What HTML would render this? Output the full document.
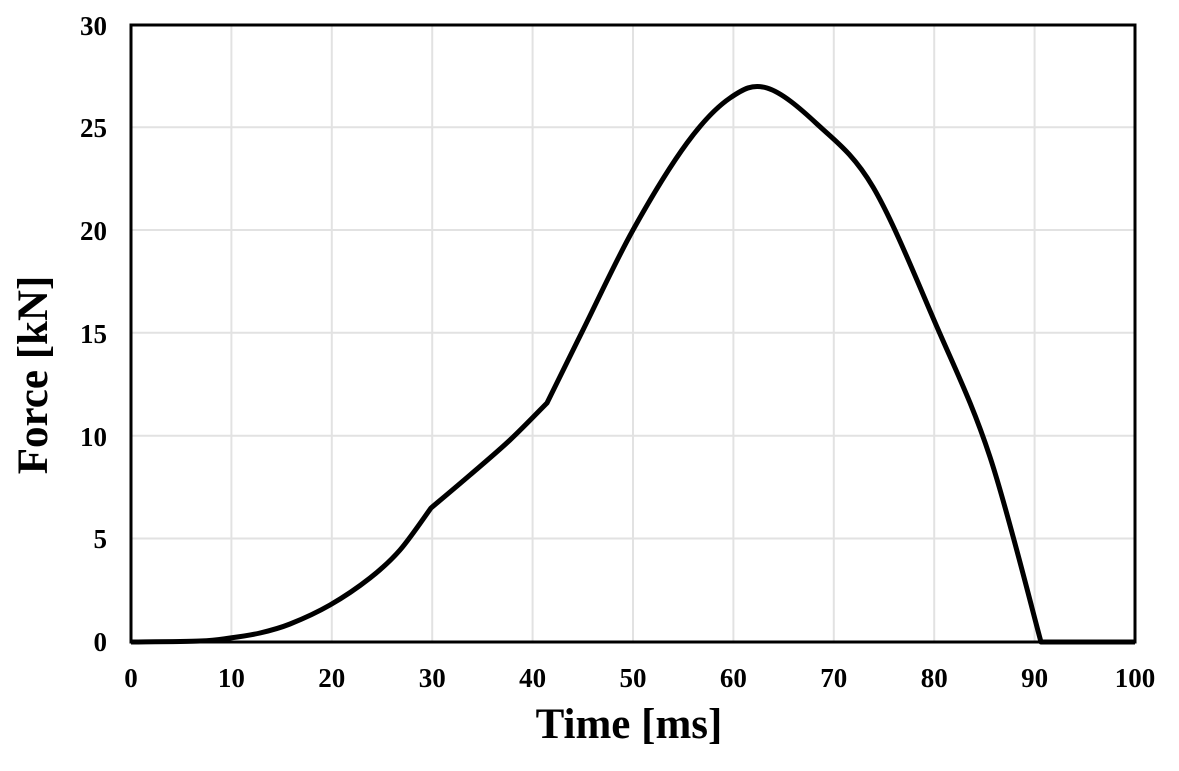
<!DOCTYPE html>
<html><head><meta charset="utf-8"><style>body{margin:0;background:#fff}svg{display:block}</style></head>
<body>
<svg width="1179" height="771" viewBox="0 0 1179 771" xmlns="http://www.w3.org/2000/svg" font-family="'Liberation Serif',serif" font-weight="bold">
<g stroke="#e2e2e2" stroke-width="2">
<line x1="231.4" y1="25" x2="231.4" y2="642"/><line x1="331.8" y1="25" x2="331.8" y2="642"/><line x1="432.2" y1="25" x2="432.2" y2="642"/><line x1="532.6" y1="25" x2="532.6" y2="642"/><line x1="633" y1="25" x2="633" y2="642"/><line x1="733.4" y1="25" x2="733.4" y2="642"/><line x1="833.8" y1="25" x2="833.8" y2="642"/><line x1="934.2" y1="25" x2="934.2" y2="642"/><line x1="1034.6" y1="25" x2="1034.6" y2="642"/>
<line x1="131" y1="127.2" x2="1135" y2="127.2"/><line x1="131" y1="230" x2="1135" y2="230"/><line x1="131" y1="332.8" x2="1135" y2="332.8"/><line x1="131" y1="435.7" x2="1135" y2="435.7"/><line x1="131" y1="538.5" x2="1135" y2="538.5"/>
</g>
<rect x="131" y="25" width="1004" height="617" fill="none" stroke="#000" stroke-width="3"/>
<path id="curve" fill="none" stroke="#000" stroke-width="5" stroke-linejoin="round" d="M131,642 L1135,642"/>
<g font-size="27" text-anchor="end">
<text x="107" y="35">30</text><text x="107" y="137">25</text><text x="107" y="240">20</text><text x="107" y="343">15</text><text x="107" y="446">10</text><text x="107" y="548">5</text><text x="107" y="651">0</text>
</g>
<g font-size="27" text-anchor="middle">
<text x="131" y="687">0</text><text x="231.4" y="687">10</text><text x="331.8" y="687">20</text><text x="432.2" y="687">30</text><text x="532.6" y="687">40</text><text x="633" y="687">50</text><text x="733.4" y="687">60</text><text x="833.8" y="687">70</text><text x="934.2" y="687">80</text><text x="1034.6" y="687">90</text><text x="1135" y="687">100</text>
</g>
<text x="629" y="738" font-size="43" text-anchor="middle">Time [ms]</text>
<text transform="translate(47,375) rotate(-90)" font-size="43" text-anchor="middle">Force [kN]</text>
</svg>
<script>
var segs=[
[[131,642],[200,641],[230,638],[260,633],[290,624],[330,605],[370,578],[400,550],[431,508]],
[[431,508],[470,475],[510,440],[547,403]],
[[547,403],[583,330],[633,230],[687,143],[730,98],[767,88],[817,124],[873,187],[937,327],[990,457],[1041,642]]
];
var d="M131,642";
segs.forEach(function(p){
 for(var i=0;i<p.length-1;i++){
  var p0=p[Math.max(i-1,0)],p1=p[i],p2=p[i+1],p3=p[Math.min(i+2,p.length-1)];
  var c1=[p1[0]+(p2[0]-p0[0])/6,p1[1]+(p2[1]-p0[1])/6];
  var c2=[p2[0]-(p3[0]-p1[0])/6,p2[1]-(p3[1]-p1[1])/6];
  d+=" C"+c1+" "+c2+" "+p2;
 }
});
d+=" L1135,642";
document.getElementById("curve").setAttribute("d",d);
</script>
</body></html>
